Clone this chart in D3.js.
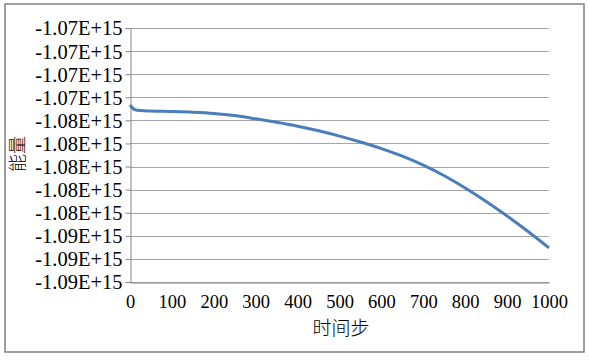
<!DOCTYPE html>
<html>
<head>
<meta charset="utf-8">
<script src="https://cdn.jsdelivr.net/npm/d3@7"></script>
<style>
  body { margin: 0; background: #fff; }
</style>
</head>
<body>
<svg id="chart" width="589" height="360"></svg>
<script>
// time steps and energy
var steps = [0, 10, 25, 50, 100, 150, 200, 250, 300, 350, 400, 450, 500,
             550, 600, 650, 700, 750, 800, 850, 900, 950, 1000];
var energy = [-1.0746693e15, -1.0750417e15, -1.0751543e15, -1.0751890e15, -1.0752323e15,
              -1.0752929e15, -1.0753968e15, -1.0755874e15, -1.0758646e15, -1.0761677e15,
              -1.0765055e15, -1.0769039e15, -1.0773630e15, -1.0778740e15, -1.0784457e15,
              -1.0791039e15, -1.0798834e15, -1.0808015e15, -1.0818582e15, -1.0830275e15,
              -1.0842834e15, -1.0856259e15, -1.0870464e15];
var xTicks = [0, 100, 200, 300, 400, 500, 600, 700, 800, 900, 1000];
var yTicks = d3.range(0, 12).map(function(i) { return -1.068e15 - i * 0.002e15 });

var serif = "Liberation Serif, serif";
var cjk = "Noto Sans CJK SC, sans-serif";

var svg = d3.select("#chart");
var plotLeft = 130, plotRight = 549, plotTop = 28, plotBottom = 282;

svg.append("rect")
    .attr("x", 5).attr("y", 4)
    .attr("width", 579).attr("height", 348)
    .attr("fill", "#fff")
    .attr("stroke", "#808080")
    .attr("stroke-width", 1.5);

var x = d3.scaleLinear().domain([0, 1000]).range([plotLeft, plotRight]);
var y = d3.scaleLinear().domain([-1.090e15, -1.068e15]).range([plotBottom, plotTop]);

function fmt(d) {
    return d.toExponential(2).toUpperCase();
}

// gridlines
svg.append("g")
    .selectAll("line")
    .data(yTicks)
    .enter()
    .append("line")
    .attr("x1", plotLeft).attr("x2", plotRight)
    .attr("y1", function(d) { return Math.round(y(d)) + 0.5 })
    .attr("y2", function(d) { return Math.round(y(d)) + 0.5 })
    .attr("stroke", "#a6a6a6");

// y axis
var yAxis = svg.append("g")
    .attr("transform", "translate(" + (plotLeft + 0.5) + ",0)")
    .call(d3.axisLeft(y).tickValues(yTicks).tickFormat(fmt).tickSize(5).tickPadding(3));
yAxis.select(".domain").attr("stroke", "#868686");
yAxis.selectAll(".tick line").attr("stroke", "#868686");
yAxis.selectAll("text")
    .style("font-family", serif)
    .style("font-size", "20.5px")
    .attr("fill", "#000")
    .attr("dy", "0.34em");

// x axis
var xAxis = svg.append("g")
    .attr("transform", "translate(0," + (plotBottom + 0.5) + ")")
    .call(d3.axisBottom(x).tickValues(xTicks).tickFormat(d3.format("d")).tickSize(0).tickPadding(12));
xAxis.select(".domain").attr("stroke", "#868686");
xAxis.selectAll("text")
    .style("font-family", serif)
    .style("font-size", "18.5px")
    .attr("fill", "#000");

// energy curve
var line = d3.line()
    .x(function(d, i) { return x(steps[i]) })
    .y(function(d) { return y(d) })
    .curve(d3.curveMonotoneX);

svg.append("path")
    .datum(energy)
    .attr("d", line)
    .attr("fill", "none")
    .attr("stroke", "#4a7ebb")
    .attr("stroke-width", 3);

// axis titles
svg.append("text")
    .attr("x", 341).attr("y", 335)
    .attr("text-anchor", "middle")
    .style("font-size", "19px")
    .style("font-family", cjk)
    .style("font-weight", 300)
    .text("时间步");

svg.append("text")
    .attr("transform", "translate(24,154) rotate(-90)")
    .attr("text-anchor", "middle")
    .style("font-size", "18px")
    .style("font-family", cjk)
    .style("font-weight", 300)
    .text("能量");
</script>
</body>
</html>
